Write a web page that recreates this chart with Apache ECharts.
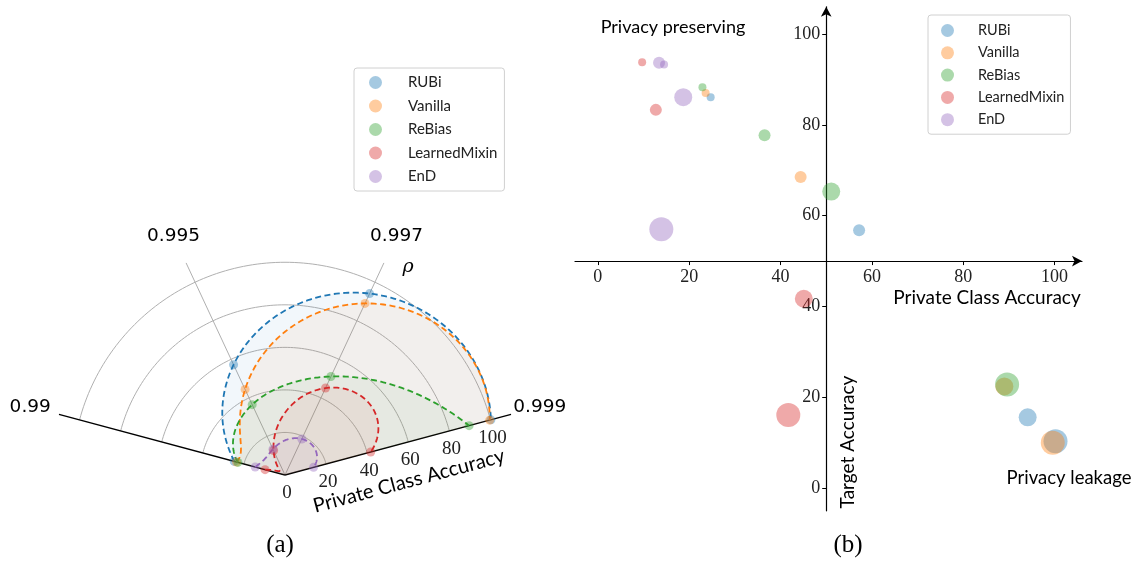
<!DOCTYPE html>
<html><head><meta charset="utf-8">
<script src="https://cdn.jsdelivr.net/npm/echarts@6/dist/echarts.min.js"></script>
<style>html,body{margin:0;padding:0;background:#fff}#c{width:1136px;height:563px}</style>
</head><body><div id="c"></div>
<script>
// ---------------- data ----------------
const methods = ['RUBi', 'Vanilla', 'ReBias', 'LearnedMixin', 'EnD'];
const rhoLabels = ['0.99', '0.995', '0.997', '0.999'];
// private class accuracy at each rho
const rubiPrivate = [24.7, 57.2, 94.1, 100.2];
const vanillaPrivate = [23.6, 44.4, 89.0, 99.6];
const rebiasPrivate = [22.9, 36.5, 51.1, 89.6];
const learnedMixinPrivate = [9.7, 12.7, 45.1, 41.7];
const endPrivate = [14.5, 13.4, 18.7, 13.9];
// target accuracy at each rho
const rubiTarget = [86.1, 56.8, 15.6, 10.3];
const vanillaTarget = [87.0, 68.5, 22.4, 10.0];
const rebiasTarget = [88.3, 77.7, 65.3, 22.8];
const learnedMixinTarget = [93.8, 83.3, 41.7, 16.1];
const endTarget = [93.3, 93.7, 86.1, 57.0];
// tick labels
const accTicks = [0, 20, 40, 60, 80, 100];

// ---------------- styling / helpers ----------------
const colors = ['#1f77b4', '#ff7f0e', '#2ca02c', '#d62728', '#9467bd'];
function rgba(hex, a) {
  const n = parseInt(hex.slice(1), 16);
  return 'rgba(' + (n >> 16 & 255) + ',' + (n >> 8 & 255) + ',' + (n & 255) + ',' + a + ')';
}
const privateBy = [rubiPrivate, vanillaPrivate, rebiasPrivate, learnedMixinPrivate, endPrivate];
const targetBy = [rubiTarget, vanillaTarget, rebiasTarget, learnedMixinTarget, endTarget];
const bubbleSize = [8, 12, 18, 24];           // marker size grows with rho
const nR = rhoLabels.length;
const angleOf = i => (nR - 1) - i;             // rho index -> angle-axis value (0.999 at start)
const R_MAX = 110;
const SANS = 'Lato';
const SERIF = 'Liberation Serif';

// cubic (not-a-knot spline through 4 points) evaluated in rho-index space
function cubicAt(vals, t) {
  let s = 0;
  for (let i = 0; i < vals.length; i++) {
    let l = 1;
    for (let j = 0; j < vals.length; j++) if (j !== i) l *= (t - j) / (i - j);
    s += vals[i] * l;
  }
  return s;
}

// right grid layout
const G = { left: 575, top: 6.8, width: 507, height: 504 };
const xMin = -5, xMax = 106, yMin = -5, yMax = 106, cross = 50;

const series = [];
// right-plot bubbles (first so that the legend takes their colour)
methods.forEach((m, mi) => {
  series.push({
    type: 'scatter', name: m, xAxisIndex: 0, yAxisIndex: 0,
    data: privateBy[mi].map((v, i) => [v, targetBy[mi][i]]),
    symbolSize: (val, p) => bubbleSize[p.dataIndex],
    itemStyle: { color: rgba(colors[mi], 0.5) },
    z: 5, silent: true
  });
});
// polar grid arcs
series.push({
  type: 'custom', coordinateSystem: 'polar', silent: true, z: 1,
  data: accTicks.filter(v => v > 0).map(v => [v, 0]),
  renderItem(params, api) {
    const r = api.value(0), pts = [];
    for (let k = 0; k <= 120; k++) pts.push(api.coord([r, (nR - 1) * k / 120]));
    return { type: 'polyline', shape: { points: pts }, style: { stroke: '#b0b0b0', lineWidth: 1, fill: null } };
  }
});
// polar spokes
series.push({
  type: 'custom', coordinateSystem: 'polar', silent: true, z: 1,
  data: rhoLabels.map((l, i) => [R_MAX, angleOf(i)]),
  renderItem(params, api) {
    const a = api.value(1);
    const edge = params.dataIndex === 0 || params.dataIndex === nR - 1;
    const p0 = api.coord([0, a]), p1 = api.coord([api.value(0), a]);
    return { type: 'line', z2: edge ? 20 : 0,
      shape: { x1: p0[0], y1: p0[1], x2: p1[0], y2: p1[1] },
      style: { stroke: edge ? '#000' : '#b0b0b0', lineWidth: edge ? 1.3 : 1 } };
  }
});
// rho labels
series.push({
  type: 'custom', coordinateSystem: 'polar', silent: true, z: 1,
  data: rhoLabels.map((l, i) => [124, angleOf(i)]),
  renderItem(params, api) {
    const p = api.coord([api.value(0), api.value(1)]);
    return { type: 'text', x: p[0], y: p[1],
      style: { text: rhoLabels[params.dataIndex], font: '18.5px "DejaVu Sans"', fill: '#000', align: 'center', verticalAlign: 'middle' } };
  }
});
// radius tick labels along the 0.999 axis
series.push({
  type: 'custom', coordinateSystem: 'polar', silent: true, z: 1,
  data: accTicks.map(v => [v, 0]),
  renderItem(params, api) {
    const p = api.coord([api.value(0), api.value(1)]);
    return { type: 'text', x: p[0] + 2, y: p[1] + 18,
      style: { text: String(accTicks[params.dataIndex]), font: '19px "' + SERIF + '"', fill: '#222', align: 'center', verticalAlign: 'middle' } };
  }
});
// per-method curves with fill
methods.forEach((m, mi) => {
  const vals = privateBy[mi];
  series.push({
    type: 'custom', name: m, coordinateSystem: 'polar', silent: true, z: 2,
    data: vals.map((v, i) => [v, angleOf(i)]),
    encode: { radius: 0, angle: 1 },
    renderItem(params, api) {
      if (params.dataIndex !== 0) return null;
      const pts = [], steps = 180;
      for (let k = 0; k <= steps; k++) {
        const t = (nR - 1) * k / steps;
        pts.push(api.coord([cubicAt(vals, t), angleOf(t)]));
      }
      const c = api.coord([0, 0]);
      return { type: 'group', children: [
        { type: 'polygon', z2: 0, shape: { points: [c].concat(pts) }, style: { fill: rgba(colors[mi], 0.06), stroke: null } },
        { type: 'polyline', z2: 10, shape: { points: pts }, style: { stroke: colors[mi], lineWidth: 1.8, lineDash: [6, 3.5], fill: null } }
      ] };
    }
  });
});
// polar dots
methods.forEach((m, mi) => {
  series.push({
    type: 'scatter', name: m, coordinateSystem: 'polar', silent: true, z: 4,
    data: privateBy[mi].map((v, i) => [v, angleOf(i)]),
    symbolSize: 9,
    itemStyle: { color: rgba(colors[mi], 0.5) }
  });
});

const legendCommon = {
  orient: 'vertical', data: methods, icon: 'circle', selectedMode: false,
  itemWidth: 13, itemHeight: 13,
  borderColor: '#d0d0d0', borderWidth: 1, borderRadius: 3, backgroundColor: '#fff'
};

const option = {
  animation: false,
  backgroundColor: '#fff',
  legend: [
    Object.assign({}, legendCommon, { left: 354, top: 68, itemGap: 8.5, padding: [7, 7, 7, 15],
      textStyle: { fontFamily: SANS, fontSize: 15, color: '#222', padding: [0, 0, 0, 21], lineHeight: 13 } }),
    Object.assign({}, legendCommon, { left: 928, top: 15, itemGap: 7.3, padding: [8, 6, 7, 13],
      textStyle: { fontFamily: SANS, fontSize: 14.5, color: '#222', padding: [0, 0, 0, 19], lineHeight: 13 } })
  ],
  polar: { center: [285, 475], radius: 234 },
  angleAxis: { type: 'value', min: 0, max: 360 / 50, startAngle: 15, clockwise: false,
    axisLine: { show: false }, axisTick: { show: false }, axisLabel: { show: false }, splitLine: { show: false } },
  radiusAxis: { type: 'value', min: 0, max: R_MAX,
    axisLine: { show: false }, axisTick: { show: false }, axisLabel: { show: false }, splitLine: { show: false } },
  grid: Object.assign({ containLabel: false, outerBoundsMode: 'none' }, G),
  xAxis: {
    type: 'value', min: xMin, max: xMax, position: 'bottom',
    offset: -G.height * (cross - yMin) / (yMax - yMin),
    axisLine: { show: true, onZero: false, symbol: ['none', 'arrow'], symbolSize: [8, 10], lineStyle: { color: '#000', width: 1.2 } },
    axisTick: { show: true, length: 4, customValues: accTicks, lineStyle: { color: '#000' } },
    axisLabel: { customValues: accTicks, margin: 7, fontFamily: SERIF, fontSize: 18, color: '#222' },
    splitLine: { show: false }
  },
  yAxis: {
    type: 'value', min: yMin, max: yMax, position: 'left',
    offset: -G.width * (cross - xMin) / (xMax - xMin),
    axisLine: { show: true, onZero: false, symbol: ['none', 'arrow'], symbolSize: [8, 10], lineStyle: { color: '#000', width: 1.2 } },
    axisTick: { show: true, length: 4, customValues: accTicks, lineStyle: { color: '#000' } },
    axisLabel: { customValues: accTicks, margin: 6, fontFamily: SERIF, fontSize: 18, color: '#222' },
    splitLine: { show: false }
  },
  graphic: [
    { type: 'text', x: 408, y: 267, style: { text: 'ρ', font: 'italic 19px "DejaVu Serif"', fill: '#000', align: 'center', verticalAlign: 'middle' } },
    { type: 'text', x: 409, y: 481, rotation: 15 * Math.PI / 180,
      style: { text: 'Private Class Accuracy', font: '20px ' + SANS, fill: '#000', align: 'center', verticalAlign: 'middle' } },
    { type: 'text', x: 673, y: 27, style: { text: 'Privacy preserving', font: '18px ' + SANS, fill: '#000', align: 'center', verticalAlign: 'middle' } },
    { type: 'text', x: 1069, y: 478, style: { text: 'Privacy leakage', font: '18.5px ' + SANS, fill: '#000', align: 'center', verticalAlign: 'middle' } },
    { type: 'text', x: 987, y: 298, style: { text: 'Private Class Accuracy', font: '19px ' + SANS, fill: '#000', align: 'center', verticalAlign: 'middle' } },
    { type: 'text', x: 848, y: 442, rotation: Math.PI / 2,
      style: { text: 'Target Accuracy', font: '19px ' + SANS, fill: '#000', align: 'center', verticalAlign: 'middle' } },
    { type: 'text', x: 280, y: 545, style: { text: '(a)', font: '25px "' + SERIF + '"', fill: '#000', align: 'center', verticalAlign: 'middle' } },
    { type: 'text', x: 848, y: 545, style: { text: '(b)', font: '25px "' + SERIF + '"', fill: '#000', align: 'center', verticalAlign: 'middle' } }
  ],
  series: series
};

const chart = echarts.init(document.getElementById('c'), null, { renderer: 'canvas' });
chart.setOption(option);
</script>
</body></html>
